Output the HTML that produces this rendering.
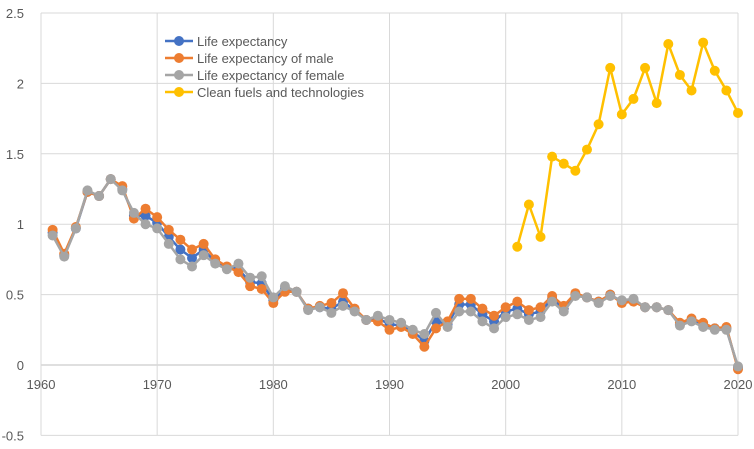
<!DOCTYPE html>
<html><head><meta charset="utf-8"><style>
body{margin:0;background:#fff;font-family:"Liberation Sans",sans-serif}
svg text{font-family:"Liberation Sans",sans-serif;font-size:13px;fill:#595959}
</style></head><body>
<svg id="c" width="754" height="444"></svg>
<script>
const years=[];for(let y=1961;y<=2020;y++)years.push(y);
const lifeTotal=[.94,.78,.97,1.23,1.2,1.32,1.25,1.06,1.06,1.01,.91,.82,.76,.82,.73,.69,.68,.59,.58,.46,.54,.52,.40,.41,.40,.45,.39,.32,.33,.29,.28,.24,.17,.31,.29,.43,.43,.36,.31,.38,.40,.36,.38,.47,.40,.50,.48,.45,.50,.45,.46,.41,.41,.39,.29,.32,.29,.26,.26,-.02];
const lifeMale=[.96,.79,.98,1.23,1.2,1.32,1.27,1.04,1.11,1.05,.96,.89,.82,.86,.75,.70,.66,.56,.54,.44,.52,.52,.40,.42,.44,.51,.40,.32,.31,.25,.27,.22,.13,.26,.31,.47,.47,.40,.35,.41,.45,.39,.41,.49,.42,.51,.48,.45,.50,.44,.45,.41,.41,.39,.30,.33,.30,.26,.27,-.03];
const lifeFemale=[.92,.77,.97,1.24,1.2,1.32,1.24,1.08,1.0,.97,.86,.75,.70,.78,.72,.68,.72,.62,.63,.48,.56,.52,.39,.41,.37,.42,.38,.32,.35,.32,.30,.25,.22,.37,.27,.38,.38,.31,.26,.34,.36,.32,.34,.45,.38,.49,.48,.44,.49,.46,.47,.41,.41,.39,.28,.31,.27,.25,.25,-.01];
const fuelYears=[2001,2002,2003,2004,2005,2006,2007,2008,2009,2010,2011,2012,2013,2014,2015,2016,2017,2018,2019,2020];
const fuelValues=[.84,1.14,.91,1.48,1.43,1.38,1.53,1.71,2.11,1.78,1.89,2.11,1.86,2.28,2.06,1.95,2.29,2.09,1.95,1.79];
const xTicks=[1960,1970,1980,1990,2000,2010,2020];
const yTicks=[-0.5,0,0.5,1,1.5,2,2.5];
const seriesNames=["Life expectancy","Life expectancy of male","Life expectancy of female","Clean fuels and technologies"];
const colors=["#4472C4","#ED7D31","#A5A5A5","#FFC000"];
const NS="http://www.w3.org/2000/svg";
const svg=document.getElementById('c');
const X=v=>41+(v-1960)*(697/60);
const Y=v=>365-v*140.8;
function el(t,a,p){const e=document.createElementNS(NS,t);for(const k in a)e.setAttribute(k,a[k]);(p||svg).appendChild(e);return e;}
yTicks.forEach(t=>{
 const l=el('line',{x1:41,x2:738,y1:Y(t),y2:Y(t),stroke:t===0?'#bfbfbf':'#d9d9d9','stroke-width':1});
 
 
 const tx=el('text',{x:24,y:Y(t)+5,'text-anchor':'end'});tx.textContent=t;
 
 
});
xTicks.forEach(t=>{
 const l=el('line',{x1:X(t),x2:X(t),y1:Y(2.5),y2:Y(-0.5),stroke:'#d9d9d9','stroke-width':1});
 
 
 const tx=el('text',{x:X(t),y:Y(0)+24,'text-anchor':'middle'});tx.textContent=t;
 
 
});
function series(xs,vs,c,name){
 const g=el('g',{});
 
 
 el('polyline',{points:xs.map((x,i)=>X(x)+','+Y(vs[i])).join(' '),fill:'none',stroke:c,'stroke-width':2.5,'stroke-linejoin':'round'},g);
 xs.forEach((x,i)=>{const p=el('circle',{cx:X(x),cy:Y(vs[i]),r:5,fill:c},g);
  
  });
}
series(years,lifeTotal,colors[0],'life-expectancy-series');
series(years,lifeMale,colors[1],'life-expectancy-male-series');
series(years,lifeFemale,colors[2],'life-expectancy-female-series');
series(fuelYears,fuelValues,colors[3],'clean-fuels-series');
seriesNames.forEach((n,i)=>{
 const g=el('g',{});
 
 
 const y=41+i*17;
 el('line',{x1:165,x2:193,y1:y,y2:y,stroke:colors[i],'stroke-width':2.5},g);
 el('circle',{cx:179,cy:y,r:5,fill:colors[i]},g);
 const t=el('text',{x:197,y:y+5},g);t.textContent=n;
});
</script>
</body></html>
